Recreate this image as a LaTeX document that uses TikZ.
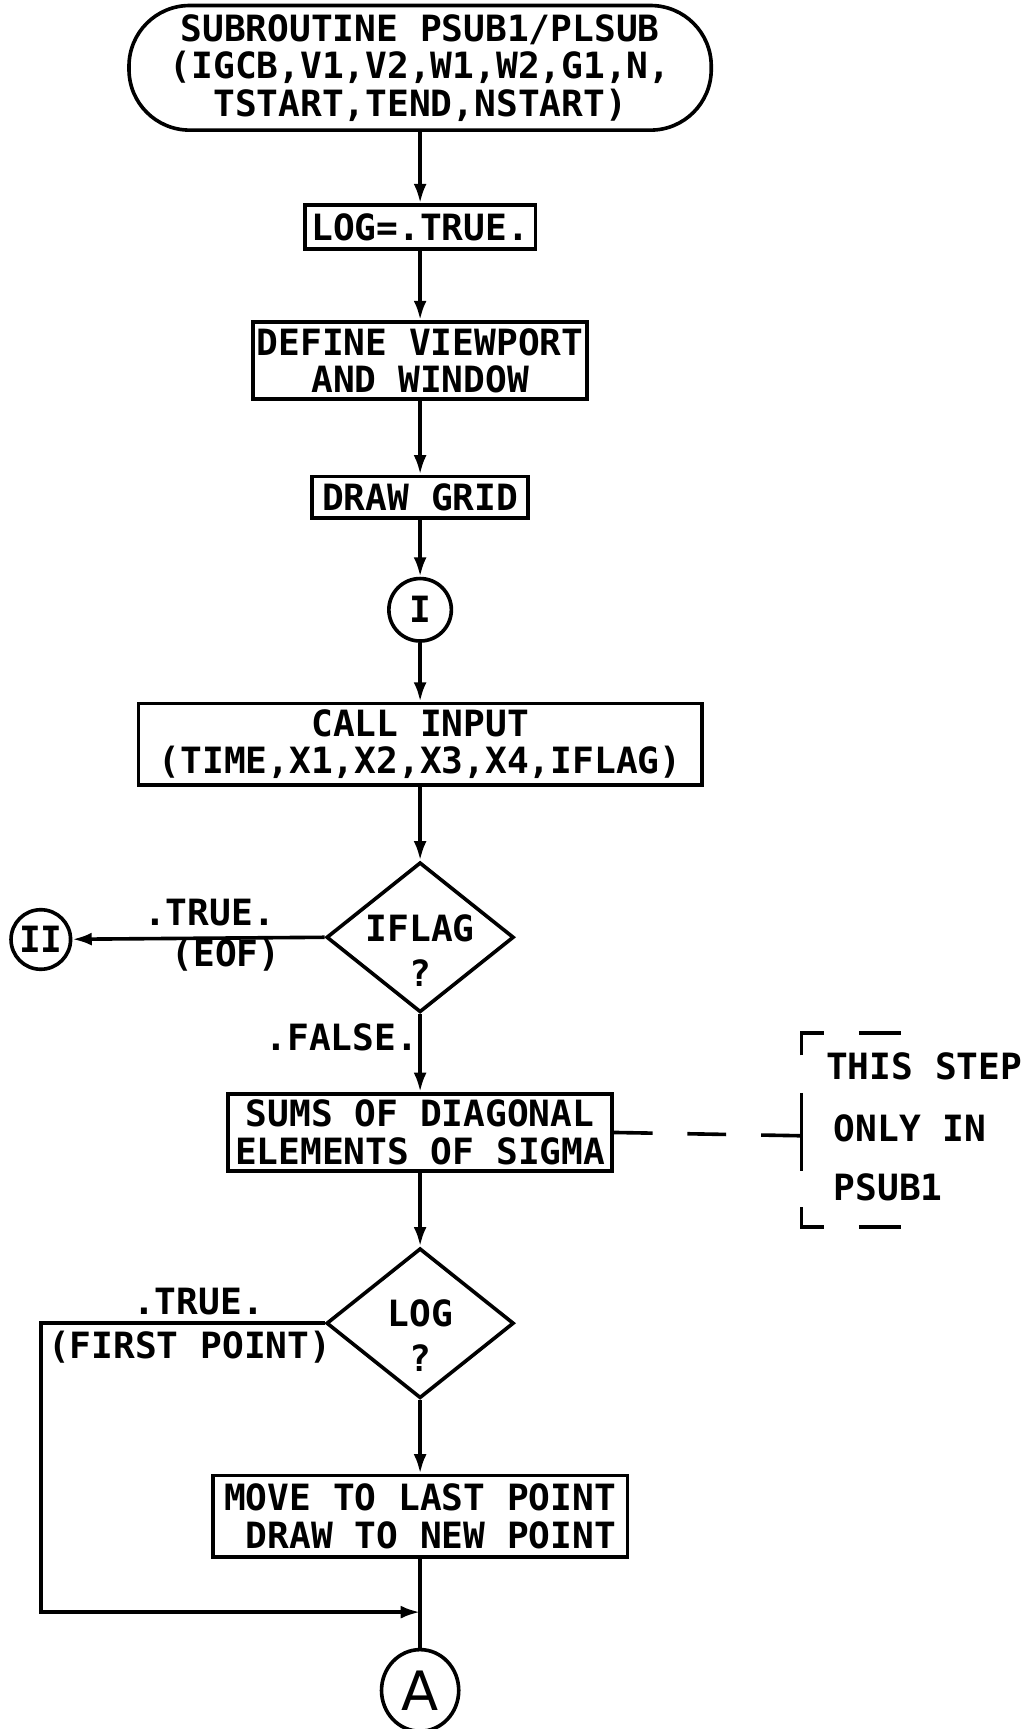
\documentclass[tikz,border=0pt]{standalone}
\usepackage{fontspec}
\setmainfont{DejaVu Sans Mono}
\setsansfont{DejaVu Sans}
\usetikzlibrary{arrows.meta,shapes.geometric}
\tikzset{
  thk/.style={line width=2.8pt},
  txt/.style={font=\bfseries\fontsize{28}{29}\selectfont},
  box/.style={draw, thk, txt, rectangle, inner sep=0pt, align=center},
  term/.style={box, rounded corners=1.65cm},
  dec/.style={draw, thk, txt, diamond, inner sep=0pt, align=center, minimum width=5.1cm, minimum height=4.08cm},
  conn/.style={draw, thk, circle, inner sep=0pt, txt, minimum size=1.7cm},
  flow/.style={thk, -{Latex[length=15pt,width=10pt]}},
  lbl/.style={txt, inner sep=0pt, align=center},
}
\begin{document}
\begin{tikzpicture}[x=0.03cm, y=-0.03cm]
\useasboundingbox (0,0) rectangle (930,1568);
% nodes
\node[term, minimum width=15.84cm, minimum height=3.39cm] (term) at (381,61.5) {SUBROUTINE PSUB1/PLSUB\\(IGCB,V1,V2,W1,W2,G1,N,\\TSTART,TEND,NSTART)};
\node[box, minimum width=6.27cm, minimum height=1.2cm] (logbox) at (381,206) {LOG=.TRUE.};
\node[box, minimum width=9.09cm, minimum height=2.1cm] (define) at (381,327) {DEFINE VIEWPORT\\AND WINDOW};
\node[box, minimum width=5.88cm, minimum height=1.14cm] (grid) at (381,451) {DRAW GRID};
\node[conn] (ci) at (381,553) {I};
\node[box, minimum width=15.33cm, minimum height=2.22cm] (call) at (381,675) {CALL INPUT\\(TIME,X1,X2,X3,X4,IFLAG)};
\node[dec] (iflag) at (381,850) {};
\node[lbl] (iflagt) at (381,862) {IFLAG\\[6pt]?};
\node[conn, minimum size=1.62cm] (cii) at (37,852) {II};
\node[box, minimum width=10.44cm, minimum height=2.1cm] (sums) at (381,1027) {SUMS OF DIAGONAL\\ELEMENTS OF SIGMA};
\node[dec] (logd) at (381,1200) {};
\node[lbl] (logdt) at (381,1211) {LOG\\[6pt]?};
\node[box, align=right, minimum width=11.28cm, minimum height=2.22cm] (move) at (381,1375) {MOVE TO LAST POINT\\DRAW TO NEW POINT};
\node[draw, thk, ellipse, minimum width=2.1cm, minimum height=2.22cm, inner sep=0pt, font=\sffamily\fontsize{42}{42}\selectfont] (ca) at (381,1533) {A};
% labels
\node[lbl] (t1) at (190,828) {.TRUE.};
\node[lbl] (eof) at (205,866) {(EOF)};
\node[lbl] (fa) at (310,941) {.FALSE.};
\node[lbl] (t2) at (180,1180) {.TRUE.};
\node[lbl] (fp) at (172,1222) {(FIRST POINT)};
\node[lbl, anchor=base west] (n1) at (749,979) {THIS STEP};
\node[lbl, anchor=base west] (n2) at (756,1035) {ONLY IN};
\node[lbl, anchor=base west] (n3) at (756,1089) {PSUB1};
% connectors
\draw[flow] (term) -- (logbox);
\draw[flow] (logbox) -- (define);
\draw[flow] (define) -- (grid);
\draw[flow] (grid) -- (ci);
\draw[flow] (ci) -- (call);
\draw[flow] (call) -- (iflag.north);
\draw[flow] (iflag.west) -- (cii);
\draw[flow] (iflag.south) -- (sums.north);
\draw[flow] (sums) -- (logd.north);
\draw[flow] (logd.south) -- (move.north);
\draw[thk] (move.south) -- (ca.north);
\coordinate (lc) at (37,1462);
\coordinate (join) at (381,1462);
\draw[flow] (logd.west) -| (lc) -- (join);
% bracket note
\coordinate (bm) at (727,1030);
\draw[thk, dash pattern=on 30pt off 27pt] (sums.east) -- (bm);
\draw[thk] (727,991) -- (727,1062);
\draw[thk] (727,957) -- (727,937) -- (747,937);
\draw[thk] (779,937) -- (817,937);
\draw[thk] (727,1095) -- (727,1113) -- (747,1113);
\draw[thk] (779,1113) -- (817,1113);
\end{tikzpicture}
\end{document}
